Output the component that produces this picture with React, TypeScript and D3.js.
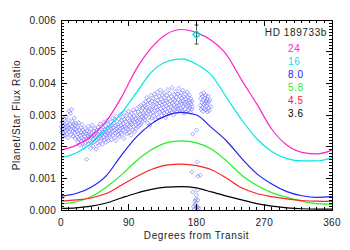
import React from "react";
import * as d3 from "d3";

// phase angle (degrees) at which model curves were read
const phases = [0, 20, 40, 60, 80, 100, 120, 140, 160, 180, 200, 220, 240, 260, 280, 300, 320, 340, 360];

// model flux ratios (units of 1e-3), one per band
const curve24 = [1.89, 2.04, 2.33, 2.8, 3.55, 4.45, 5.12, 5.55, 5.7, 5.6, 5.35, 4.9, 4.1, 3.35, 2.55, 2.05, 1.82, 1.77, 1.89];
const curve16 = [1.65, 1.8, 2.1, 2.55, 3.05, 3.7, 4.35, 4.68, 4.77, 4.6, 4.25, 3.55, 2.85, 2.25, 1.85, 1.62, 1.55, 1.55, 1.65];
const curve80 = [0.44, 0.52, 0.72, 1.08, 1.72, 2.3, 2.72, 2.98, 3.08, 3.0, 2.6, 2.18, 1.63, 1.15, 0.82, 0.58, 0.45, 0.4, 0.42];
const curve58 = [0.19, 0.26, 0.42, 0.72, 1.1, 1.55, 1.9, 2.12, 2.18, 2.12, 1.92, 1.55, 1.1, 0.78, 0.55, 0.4, 0.28, 0.2, 0.18];
const curve45 = [0.28, 0.32, 0.38, 0.52, 0.78, 1.05, 1.28, 1.42, 1.45, 1.4, 1.27, 1.0, 0.7, 0.52, 0.42, 0.35, 0.3, 0.28, 0.27];
const curve36 = [0.05, 0.07, 0.12, 0.22, 0.38, 0.53, 0.65, 0.72, 0.74, 0.7, 0.57, 0.44, 0.32, 0.2, 0.12, 0.07, 0.04, 0.03, 0.03];

const bandLabels = ["24", "16", "8.0", "5.8", "4.5", "3.6"];
const bandColors = ["#ff22cc", "#00e8e8", "#2020f0", "#22ee22", "#ff2222", "#000000"];
const bandCurves = [curve24, curve16, curve80, curve58, curve45, curve36];

// 8 micron observations: [phase deg, flux ratio 1e-3]
const obs8: [number, number][] = [
  [0.5, 2.62], [1, 2.45], [1.5, 2.78], [2, 2.55], [2.5, 2.31], [3, 2.68], [3.5, 2.42], [4, 2.88], [4.5, 2.57], [5, 2.36],
  [5.5, 2.71], [6, 2.5], [6.5, 2.95], [7, 2.62], [7.5, 2.4], [8, 2.76], [8.5, 2.53], [9, 2.66], [9.5, 2.28], [10, 2.84],
  [10.5, 2.59], [11, 3.12], [11.5, 2.47], [12, 2.7], [12.5, 3.05], [13, 2.56], [13.5, 2.38], [14, 3.18], [14.5, 2.64], [15, 2.8],
  [15.5, 2.49], [16, 2.33], [16.5, 2.72], [17, 2.58], [17.5, 2.9], [18, 2.44], [18.5, 2.67], [19, 2.26], [19.5, 2.55], [20, 2.74],
  [3, 0.42],
  [21, 2.48], [21.5, 2.3], [22, 2.62], [22.5, 2.15], [23, 2.41], [23.5, 2.75], [24, 2.22], [24.5, 2.53], [25, 2.05], [25.5, 2.36],
  [26, 2.6], [26.5, 2.18], [27, 2.44], [27.5, 2.28], [28, 2.7], [28.5, 2.1], [29, 2.39], [29.5, 2.52], [30, 2.24], [30.5, 1.98],
  [31, 2.46], [31.5, 2.33], [32, 2.58], [32.5, 2.12], [33, 2.4], [33.5, 2.26], [34, 1.6], [34.5, 2.5], [35, 2.19], [35.5, 2.35],
  [36, 2.64], [36.5, 2.08], [37, 2.31], [37.5, 2.47], [38, 2.2], [38.5, 2.38], [39, 1.95], [39.5, 2.56], [40, 2.29], [40.5, 2.43],
  [41, 2.14], [41.5, 2.68], [42, 2.34], [42.5, 2.02], [43, 2.25], [43.5, 2.49], [44, 2.37], [44.5, 2.16], [45, 2.58], [45.5, 2.3],
  [46, 2.44], [46.5, 1.92], [47, 2.22], [47.5, 2.52], [48, 2.35], [48.5, 2.11], [49, 2.62], [49.5, 2.4], [50, 2.27], [50.5, 2.04],
  [51, 2.48], [51.5, 2.33], [52, 2.72], [52.5, 2.18], [53, 2.41], [53.5, 2.56], [54, 2.24], [54.5, 2.37], [55, 2.08], [55.5, 2.61],
  [56, 2.45], [56.5, 2.3], [57, 2.76], [57.5, 2.21], [58, 2.52], [58.5, 2.38], [59, 2.66], [59.5, 2.14], [60, 2.46], [60.5, 2.34],
  [61, 2.82], [61.5, 2.27], [62, 2.58], [62.5, 2.43], [63, 2.19], [63.5, 2.7], [64, 2.51], [64.5, 2.36], [65, 2.64],
  [65.5, 2.4], [66, 2.78], [66.5, 2.55], [67, 2.22], [67.5, 2.66], [68, 2.49], [68.5, 2.9], [69, 2.35], [69.5, 2.6], [70, 2.74],
  [70.5, 2.28], [71, 2.52], [71.5, 2.85], [72, 2.43], [72.5, 2.67], [73, 2.19], [73.5, 2.58], [74, 2.95], [74.5, 2.47], [75, 2.71],
  [75.5, 2.36], [76, 2.62], [76.5, 2.88], [77, 2.5], [77.5, 2.31], [78, 2.76], [78.5, 2.57], [79, 3.02], [79.5, 2.44], [80, 2.68],
  [80.5, 2.83], [81, 2.39], [81.5, 2.61], [82, 2.94], [82.5, 2.53], [83, 2.72], [83.5, 2.26], [84, 2.86], [84.5, 2.64], [85, 3.08],
  [85.5, 2.48], [86, 2.79], [86.5, 2.58], [87, 2.97], [87.5, 2.41], [88, 2.7], [88.5, 2.89], [89, 2.55], [89.5, 3.12], [90, 2.66],
  [90.5, 2.45], [91, 2.82], [91.5, 2.99], [92, 2.6], [92.5, 2.76], [93, 2.36], [93.5, 3.05], [94, 2.71], [94.5, 2.9], [95, 2.52],
  [95.5, 2.84], [96, 3.16], [96.5, 2.64], [97, 2.95], [97.5, 2.47], [98, 2.78], [98.5, 3.08], [99, 2.69], [99.5, 2.88], [100, 2.58],
  [100.5, 3.2], [101, 2.81], [101.5, 2.96], [102, 2.62], [102.5, 3.1], [103, 2.75], [103.5, 2.92], [104, 3.26], [104.5, 2.68], [105, 3.02],
  [105.5, 2.85], [106, 3.3], [106.5, 2.72], [107, 3.14], [107.5, 2.94], [108, 2.8], [108.5, 3.22], [109, 3.05], [109.5, 2.88], [110, 3.36],
  [110.5, 3.0], [111, 3.28], [111.5, 2.84], [112, 3.15], [112.5, 3.42], [113, 2.96], [113.5, 3.22], [114, 3.55], [114.5, 3.06], [115, 2.75],
  [115.5, 3.34], [116, 3.12], [116.5, 3.48], [117, 2.92], [117.5, 3.2], [118, 2.68], [118.5, 3.38], [119, 3.04], [119.5, 3.62], [120, 3.18],
  [120.5, 2.9], [121, 3.44], [121.5, 3.26], [122, 3.08], [122.5, 3.52], [123, 2.98], [123.5, 3.3], [124, 3.66], [124.5, 3.14], [125, 3.4],
  [125.5, 2.86], [126, 3.24], [126.5, 3.56], [127, 3.02], [127.5, 3.36], [128, 3.72], [128.5, 3.16], [129, 3.46], [129.5, 2.94], [130, 3.28],
  [130.5, 3.6], [131, 3.1], [131.5, 3.38], [132, 3.79], [132.5, 3.2], [133, 3.5], [133.5, 2.98], [134, 3.32], [134.5, 3.64], [135, 3.12],
  [135.5, 3.42], [136, 3.24], [136.5, 3.7], [137, 3.06], [137.5, 3.36], [138, 3.54], [138.5, 3.18], [139, 2.92], [139.5, 3.46], [140, 3.28],
  [140.5, 3.62], [141, 3.1], [141.5, 3.4], [142, 3.8], [142.5, 3.22], [143, 3.52], [143.5, 3.04], [144, 3.34], [144.5, 3.68], [145, 3.14],
  [145.5, 3.44], [146, 3.26], [146.5, 3.58], [147, 3.08], [147.5, 3.86], [148, 3.38], [148.5, 3.2], [149, 3.5], [149.5, 3.0], [150, 3.32],
  [150.5, 3.64], [151, 3.16], [151.5, 3.46], [152, 3.74], [152.5, 3.24], [153, 3.56], [153.5, 3.1], [154, 3.4], [154.5, 3.28], [155, 3.66],
  [155.5, 3.18], [156, 3.48], [156.5, 3.84], [157, 3.3], [157.5, 3.6], [158, 3.14], [158.5, 3.42], [159, 3.22], [159.5, 3.7], [160, 3.36],
  [160.5, 3.54], [161, 3.12], [161.5, 3.44], [162, 3.78], [162.5, 3.26], [163, 3.58], [163.5, 3.06], [164, 3.38], [164.5, 3.2], [165, 3.66],
  [165.5, 3.34], [166, 3.5], [166.5, 3.1], [167, 3.42], [167.5, 3.72], [168, 3.28], [168.5, 3.56], [169, 3.16], [169.5, 3.46], [170, 3.3],
  [170.5, 3.62], [171, 3.22], [171.5, 3.4], [172, 3.08], [172.5, 3.52], [173, 3.34], [173.5, 3.18], [174, 3.44], [174.5, 3.26],
  [185, 3.3], [185.5, 3.52], [186, 3.18], [186.5, 3.66], [187, 3.4], [187.5, 3.24], [188, 3.58], [188.5, 3.12], [189, 3.46], [189.5, 3.7],
  [190, 3.34], [190.5, 3.2], [191, 3.54], [191.5, 3.38], [192, 3.62], [192.5, 3.16], [193, 3.44], [193.5, 3.28], [194, 3.5], [194.5, 3.1],
  [195, 3.36], [195.5, 3.6], [196, 3.22], [196.5, 3.42], [197, 3.14], [198, 3.48], [199, 3.26],
  [175, 2.4], [180, 2.52], [181, 1.52], [174, 1.2], [185, 1.1], [182, 1.07], [181, 0.63], [175, 0.57], [180, 0.47], [182, 0.32],
  [179, 0.22], [178, 0.16], [180, 0.1], [176, 0.1], [182, 0.1], [180, 0.06], [177, 0.03], [181, 0.02], [183, 0.05], [179, 0.34], [178, 0.28],
];

// 24 micron eclipse point
const eclipse24 = { phase: 180, value: 5.54, err: 0.3 };

const xTicks = [0, 90, 180, 270, 360];
const yTicks = [0, 1, 2, 3, 4, 5, 6];

export default function App() {
  const width = 350;
  const height = 250;
  const left = 61;
  const right = 332;
  const top = 20;
  const bottom = 210;

  const x = d3.scaleLinear().domain([0, 360]).range([left, right]);
  const y = d3.scaleLinear().domain([0, 6]).range([bottom, top]);

  const line = d3
    .line<number>()
    .x((_, i) => x(phases[i]))
    .y((d) => y(d))
    .curve(d3.curveMonotoneX);

  const xMinor = d3.range(0, 361, 10);
  const yMinor = d3.range(0, 60.5, 1).map((v) => v / 10);
  const font = "'Liberation Sans', Arial, sans-serif";
  const diamond = (cx: number, cy: number, r: number) =>
    `M${cx},${cy - r}L${cx + r},${cy}L${cx},${cy + r}L${cx - r},${cy}Z`;

  return (
    <svg
      width={width}
      height={height}
      style={{ position: "absolute", left: 0, top: 0, background: "#fff" }}
      fontFamily={font}
    >
      {/* data points */}
      <g fill="none" stroke="#4848ff" strokeWidth={0.7} opacity={0.7}>
        {obs8.map(([p, v], i) => (
          <path key={i} d={diamond(x(p), y(v), 2.1)} />
        ))}
      </g>

      {/* model curves */}
      <g fill="none" strokeWidth={1.2}>
        {bandCurves.map((c, i) => (
          <path key={i} d={line(c) ?? ""} stroke={bandColors[i]} />
        ))}
      </g>

      {/* 24 micron eclipse depth */}
      <g>
        <line
          x1={x(eclipse24.phase)}
          x2={x(eclipse24.phase)}
          y1={y(eclipse24.value + eclipse24.err)}
          y2={y(eclipse24.value - eclipse24.err)}
          stroke="#555"
          strokeWidth={1}
        />
        <line x1={x(eclipse24.phase) - 2} x2={x(eclipse24.phase) + 2} y1={y(eclipse24.value + eclipse24.err)} y2={y(eclipse24.value + eclipse24.err)} stroke="#555" />
        <line x1={x(eclipse24.phase) - 2} x2={x(eclipse24.phase) + 2} y1={y(eclipse24.value - eclipse24.err)} y2={y(eclipse24.value - eclipse24.err)} stroke="#555" />
        <path d={diamond(x(eclipse24.phase), y(eclipse24.value), 3.5)} fill="none" stroke="#00d8d8" strokeWidth={1.4} />
      </g>

      {/* frame and ticks */}
      <g stroke="#000" strokeWidth={1} shapeRendering="crispEdges">
        <rect x={left} y={top} width={right - left} height={bottom - top} fill="none" />
        {xMinor.map((t) => {
          const len = t % 90 === 0 ? 6 : 3;
          return (
            <g key={t}>
              <line x1={x(t)} x2={x(t)} y1={bottom} y2={bottom - len} />
              <line x1={x(t)} x2={x(t)} y1={top} y2={top + len} />
            </g>
          );
        })}
        {yMinor.map((t, i) => {
          const len = i % 10 === 0 ? 6 : 3;
          return (
            <g key={i}>
              <line x1={left} x2={left + len} y1={y(t)} y2={y(t)} />
              <line x1={right} x2={right - len} y1={y(t)} y2={y(t)} />
            </g>
          );
        })}
      </g>

      {/* tick labels */}
      <g fontSize={10} fill="#222" letterSpacing={0.3}>
        {xTicks.map((t) => (
          <text key={t} x={x(t)} y={226} textAnchor="middle">
            {t}
          </text>
        ))}
        {yTicks.map((t) => (
          <text key={t} x={56} y={y(t) + 3.5} textAnchor="end">
            {(t / 1000).toFixed(3)}
          </text>
        ))}
      </g>

      {/* axis titles */}
      <g fontSize={10} fill="#222" letterSpacing={0.6}>
        <text x={(left + right) / 2} y={239} textAnchor="middle">
          Degrees from Transit
        </text>
        <text transform={`translate(20,${(top + bottom) / 2}) rotate(-90)`} textAnchor="middle">
          Planet/Star Flux Ratio
        </text>
      </g>

      {/* legend */}
      <g fontSize={10} letterSpacing={0.6}>
        <text x={327} y={36} textAnchor="end" fill="#222">
          HD 189733b
        </text>
        {bandLabels.map((b, i) => (
          <text key={b} x={288} y={52 + i * 13} fill={bandColors[i]}>
            {b}
          </text>
        ))}
      </g>
    </svg>
  );
}
